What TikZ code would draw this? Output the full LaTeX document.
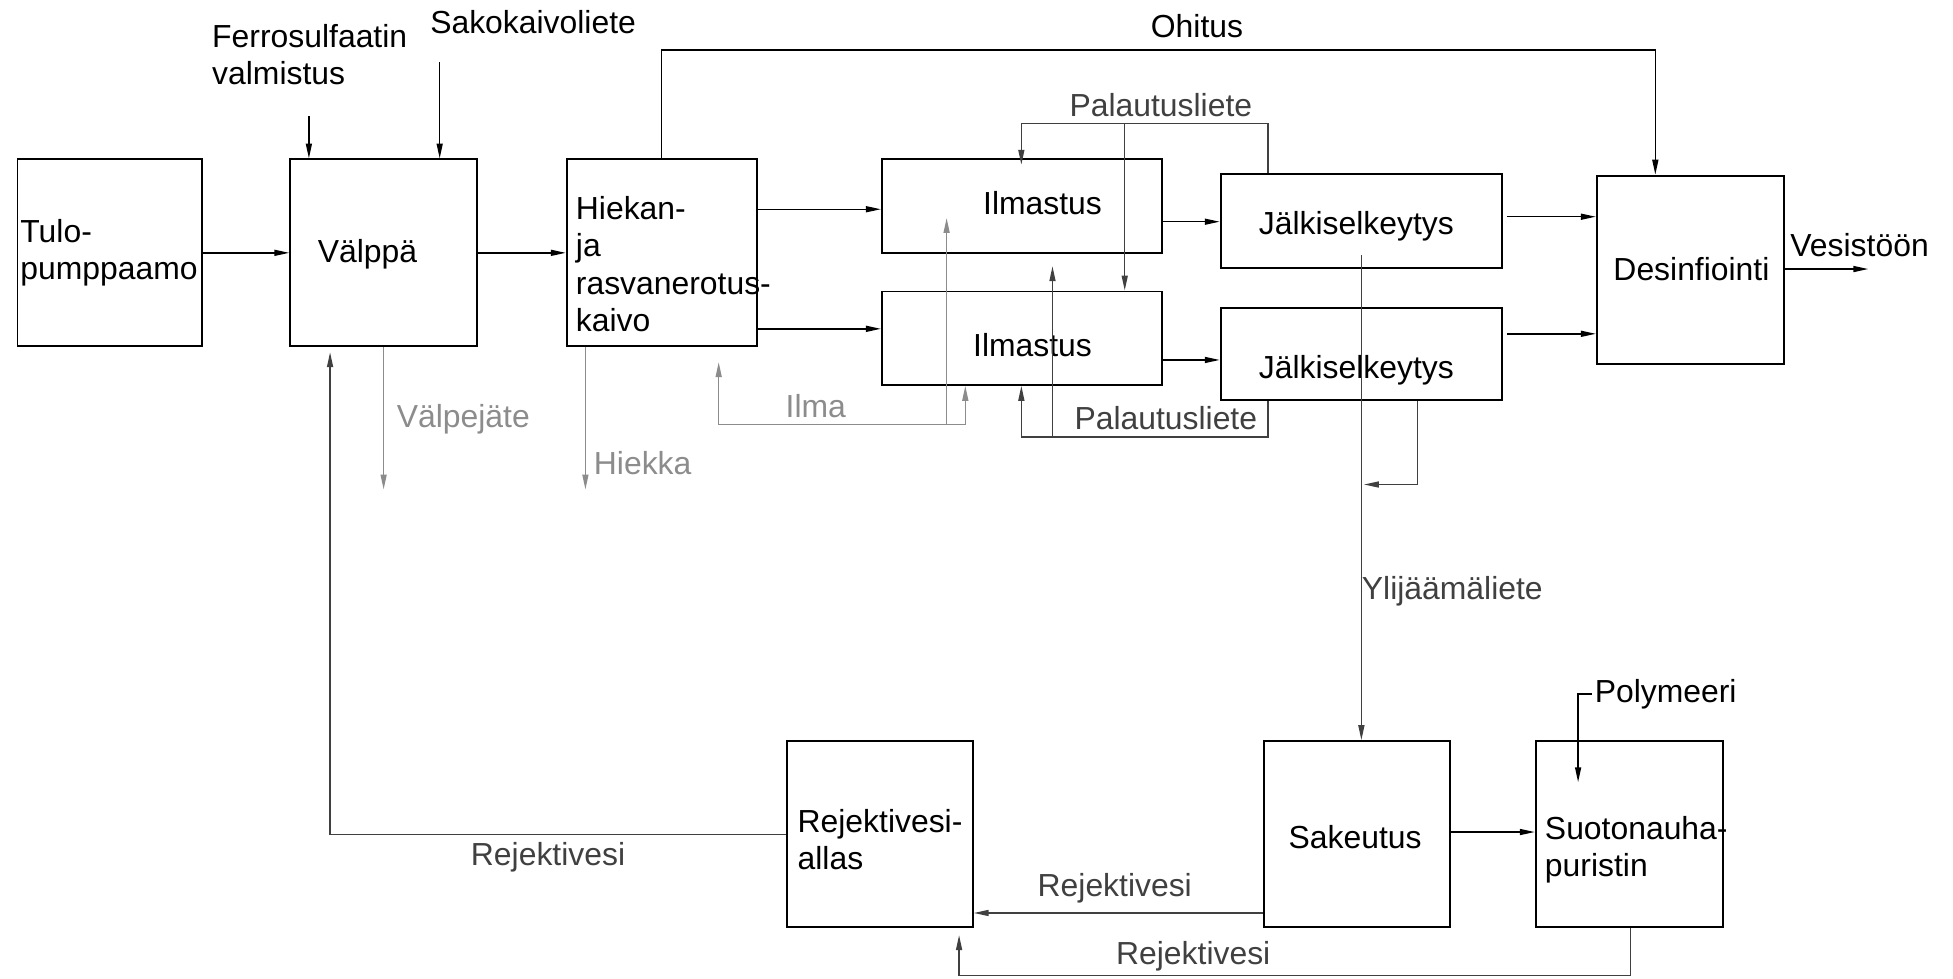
\documentclass[tikz,border=0pt]{standalone}
\usepackage{fontspec}
\setmainfont{Liberation Sans}
\usetikzlibrary{arrows.meta,fit,calc}
\definecolor{dk}{HTML}{404040}
\definecolor{lg}{HTML}{8C8C8C}
\begin{document}
\begin{tikzpicture}[x=0.5pt,y=-0.5pt,
  box/.style={draw, line width=0.75pt, inner sep=0pt},
  lbl/.style={inner sep=0pt, font=\fontsize{12.8}{15}\selectfont, align=left},
  conn/.style={line width=0.6pt, -{Triangle[length=6pt,width=2.4pt]}},
  dkconn/.style={conn, draw=dk},
  lgconn/.style={conn, draw=lg},
  dkline/.style={line width=0.6pt, draw=dk},
  lgline/.style={line width=0.6pt, draw=lg},
]
\useasboundingbox (0,0) rectangle (1568,786);
% boxes
\node[box, fit={(14,128)(162,278)}] (tulo) {};
\node[box, fit={(233,128)(383,278)}] (valppa) {};
\node[box, fit={(455,128)(608,278)}] (hiekan) {};
\node[box, fit={(708,128)(933,203)}] (ilm1) {};
\node[box, fit={(708,234)(933,309)}] (ilm2) {};
\node[box, fit={(980,140)(1206,215)}] (jal1) {};
\node[box, fit={(980,247)(1206,321)}] (jal2) {};
\node[box, fit={(1282,141)(1432,292)}] (desinf) {};
\node[box, fit={(632,595)(781,744)}] (allas) {};
\node[box, fit={(1015,595)(1164,744)}] (sak) {};
\node[box, fit={(1233,595)(1383,744)}] (suo) {};
% box texts
\node[lbl, anchor=west] (ttulo) at (16,203) {Tulo-\\pumppaamo};
\node[lbl] (tvalppa) at (295,204) {Välppä};
\node[lbl, anchor=west] (thiekan) at (462,212) {Hiekan-\\ja\\rasvanerotus-\\kaivo};
\node[lbl] (tilm1) at (837,163) {Ilmastus};
\node[lbl] (tilm2) at (829,277) {Ilmastus};
\node[lbl] (tjal1) at (1089,182) {Jälkiselkeytys};
\node[lbl] (tjal2) at (1089,297) {Jälkiselkeytys};
\node[lbl] (tdes) at (1358,216) {Desinfiointi};
\node[lbl, anchor=west] (tallas) at (640,674) {Rejektivesi-\\allas};
\node[lbl] (tsak) at (1088,672) {Sakeutus};
\node[lbl, anchor=west] (tsuo) at (1240,682) {Suotonauha-\\puristin};
% external labels
\node[lbl, anchor=west] (tferro) at (170,44) {Ferrosulfaatin\\valmistus};
\node[lbl] (tsako) at (428,18) {Sakokaivoliete};
\node[lbl] (tohitus) at (961,21) {Ohitus};
\node[lbl, text=dk] (tpal1) at (932,84) {Palautusliete};
\node[lbl, text=dk] (tpal2) at (936,336) {Palautusliete};
\node[lbl, text=lg] (tilma) at (655,326) {Ilma};
\node[lbl, text=lg] (tvalpe) at (372,337) {Välpejäte};
\node[lbl, text=lg] (thiekka) at (516,372) {Hiekka};
\node[lbl] (tves) at (1493,197) {Vesistöön};
\node[lbl, text=dk] (tyli) at (1166,475) {Ylijäämäliete};
\node[lbl, anchor=west] (tpoly) at (1280,557) {Polymeeri};
\node[lbl, text=dk] (trej1) at (440,688) {Rejektivesi};
\node[lbl, text=dk] (trej2) at (895,713) {Rejektivesi};
\node[lbl, text=dk] (trej3) at (958,768) {Rejektivesi};
% coordinates for free ends
\coordinate (ferroin) at (248,93);
\coordinate (sakoin) at (353,50);
\coordinate (vesout) at (1500,216);
\coordinate (valpeout) at (308,393);
\coordinate (hiekkaout) at (470,393);
\coordinate (polyin) at (1278,557);
% main flow
\draw[conn] (tulo.east) -- (valppa.west);
\draw[conn] (valppa.east) -- (hiekan.west);
\draw[conn] (ferroin) -- (valppa.north -| ferroin);
\draw[conn] (sakoin) -- (valppa.north -| sakoin);
\draw[conn] (hiekan.east |- 0,168) -- (ilm1.west |- 0,168);
\draw[conn] (hiekan.east |- 0,264) -- (ilm2.west |- 0,264);
\draw[conn] (ilm1.east |- 0,178) -- (jal1.west |- 0,178);
\draw[conn] (ilm2.east |- 0,289) -- (jal2.west |- 0,289);
\draw[conn] ($(jal1.east |- 0,174)+(3,0)$) -- (desinf.west |- 0,174);
\draw[conn] ($(jal2.east |- 0,268)+(3,0)$) -- (desinf.west |- 0,268);
\draw[conn] (desinf.east |- vesout) -- (vesout);
\draw[conn] (hiekan.north -| 531,0) |- (1329,40) -- (desinf.north -| 1329,0);
% return sludge
\draw[dkconn] (jal1.north -| 1018,0) |- (820,99) -- ($(ilm1.north -| 820,0)+(0,5)$);
\draw[dkconn] (903,99) -- (ilm2.north -| 903,0);
\draw[dkconn] (jal2.south -| 1018,0) |- (820,351) -- (ilm2.south -| 820,0);
\draw[dkconn] (845,351) -- ($(ilm1.south -| 845,0)+(0,10)$);
% air
\draw[lgline] (577,341) -- (775,341);
\draw[lgconn] (577,341) -- ($(hiekan.south -| 577,0)+(0,12)$);
\draw[lgconn] (775,341) -- (ilm2.south -| 775,0);
\draw[lgconn] (760,341) -- (760,175);
% wastes
\draw[lgconn] (valppa.south -| valpeout) -- (valpeout);
\draw[lgconn] (hiekan.south -| hiekkaout) -- (hiekkaout);
% excess sludge
\draw[dkconn] (1093,205) -- (sak.north -| 1093,0);
\draw[dkconn] (jal2.south -| 1138,0) |- (1095,389);
% sludge line
\draw[conn] (polyin) -| (1267,628);
\draw[conn] (sak.east |- 0,668) -- (suo.west |- 0,668);
\draw[dkconn] (sak.west |- 0,733) -- (allas.east |- 0,733);
\draw[dkconn] (suo.south -| 1309,0) |- (770,783) -- ($(allas.south -| 770,0)+(0,6)$);
\draw[dkconn] (allas.west |- 0,670) -| ($(valppa.south -| 265,0)+(0,4)$);
\end{tikzpicture}
\end{document}
